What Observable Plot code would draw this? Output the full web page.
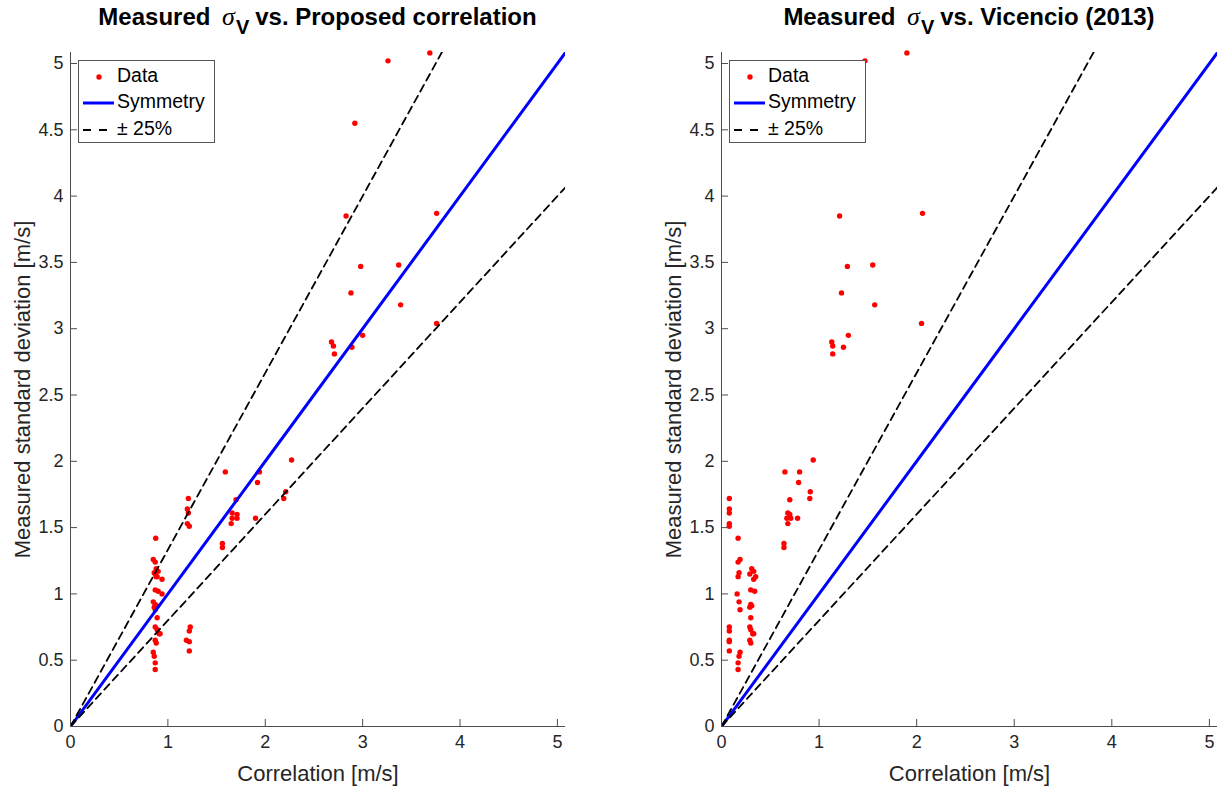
<!DOCTYPE html>
<html>
<head>
<meta charset="utf-8">
<script src="https://cdn.jsdelivr.net/npm/d3@7"></script>
<script src="https://cdn.jsdelivr.net/npm/@observablehq/plot@0.6"></script>
<style>
html, body { margin: 0; padding: 0; background: #fff; overflow: hidden; }
#wrap { position: relative; width: 1222px; height: 789px; font-family: "Liberation Sans", Arial, Helvetica, sans-serif; }
.panel { position: absolute; top: 0; width: 611px; height: 789px; }
.panel svg { display: block; }
.title { position: absolute; top: 2px; font-weight: bold; font-size: 24px; color: #000; white-space: nowrap; transform: translateX(-50%); }
.sig { font-family: "Liberation Serif", "DejaVu Serif", serif; font-style: italic; font-weight: normal; font-size: 26px; padding: 0 1px 0 5px; }
.sub { font-size: 20px; position: relative; top: 9px; margin-right: 6px; }
.legend { position: absolute; top: 60px; width: 137px; height: 83px; box-sizing: border-box; border: 1px solid #555; background: #fff; font-size: 19.5px; color: #000; }
.row { position: absolute; left: 0; height: 24px; width: 135px; }
.row svg { position: absolute; left: 4px; top: 8px; }
.row span { position: absolute; left: 38px; top: 0px; white-space: nowrap; }
</style>
</head>
<body>
<div id="wrap"></div>
<script>
// ---- data ----
const measured = [
  5.08, 5.02, 4.55, 3.87, 3.85, 3.48, 3.47, 3.27, 3.18, 3.04, 2.95, 2.90, 2.87, 2.86, 2.81,
  2.01, 1.92, 1.92, 1.84, 1.77, 1.72, 1.71, 1.61, 1.60, 1.57, 1.57, 1.57, 1.53, 1.38, 1.35,
  1.72, 1.64, 1.61, 1.53, 1.51,
  0.75, 0.72, 0.65, 0.64, 0.57,
  1.42, 1.26, 1.24, 1.19, 1.17, 1.16, 1.15, 1.13, 1.13, 1.11, 1.03, 1.02, 1.00, 0.94, 0.92,
  0.91, 0.90, 0.88, 0.82, 0.75, 0.73, 0.70, 0.70, 0.65, 0.63, 0.56, 0.53, 0.48, 0.43
];
const proposed = [
  3.69, 3.26, 2.92, 3.76, 2.83, 3.37, 2.98, 2.88, 3.39, 3.76, 3.00, 2.68, 2.70, 2.89, 2.71,
  2.27, 1.59, 1.94, 1.92, 2.21, 2.19, 1.70, 1.66, 1.71, 1.66, 1.71, 1.90, 1.65, 1.56, 1.56,
  1.21, 1.20, 1.21, 1.20, 1.22,
  1.23, 1.22, 1.19, 1.22, 1.22,
  0.875, 0.85, 0.87, 0.88, 0.90, 0.86, 0.87, 0.88, 0.89, 0.94, 0.87, 0.90, 0.94, 0.85, 0.87,
  0.89, 0.86, 0.87, 0.89, 0.87, 0.89, 0.91, 0.92, 0.87, 0.88, 0.85, 0.86, 0.87, 0.87
];
const vicencio = [
  1.90, 1.47, 1.30, 2.06, 1.21, 1.55, 1.29, 1.23, 1.57, 2.05, 1.30, 1.13, 1.14, 1.25, 1.14,
  0.94, 0.65, 0.80, 0.79, 0.91, 0.905, 0.70, 0.68, 0.70, 0.67, 0.71, 0.78, 0.68, 0.64, 0.64,
  0.08, 0.08, 0.08, 0.08, 0.08,
  0.08, 0.08, 0.08, 0.08, 0.08,
  0.17, 0.19, 0.17, 0.31, 0.33, 0.18, 0.29, 0.17, 0.35, 0.33, 0.30, 0.34, 0.16, 0.18, 0.30,
  0.31, 0.29, 0.19, 0.30, 0.29, 0.30, 0.32, 0.33, 0.29, 0.30, 0.19, 0.18, 0.17, 0.17
];
const xTicks = [0, 1, 2, 3, 4, 5];
const yTicks = [0, 0.5, 1, 1.5, 2, 2.5, 3, 3.5, 4, 4.5, 5];
const axisMax = 5.083;
const lineX = [0, axisMax];
const symmetrySlope = 1;
const upperSlope = 1 / 0.75;
const lowerSlope = 1 / 1.25;
const xLabel = "Correlation [m/s]";
const yLabel = "Measured standard deviation [m/s]";
const legendLabels = ["Data", "Symmetry", "\u00b1 25%"];

const textColor = "#262626";
const axisColor = "#4d4d4d";

function makePanel(xs, ml, mr) {
  const W = 611, H = 789, mt = 52, mb = 63;
  const innerW = W - ml - mr, innerH = H - mt - mb;
  const pts = measured.map((m, i) => ({x: xs[i], y: m}));
  const lineData = (k) => lineX.map(x => ({x, y: x * k}));
  return Plot.plot({
    width: W, height: H,
    marginLeft: ml, marginRight: mr, marginTop: mt, marginBottom: mb,
    x: {domain: [0, axisMax], axis: null},
    y: {domain: [0, axisMax], axis: null},
    style: {fontFamily: "'Liberation Sans', Arial, Helvetica, sans-serif", color: textColor, background: "#fff"},
    marks: [
      Plot.dot(pts, {x: "x", y: "y", r: 2.7, fill: "#ff0000", stroke: "none"}),
      Plot.line(lineData(symmetrySlope), {x: "x", y: "y", stroke: "#0000ff", strokeWidth: 3, clip: true}),
      Plot.line(lineData(upperSlope), {x: "x", y: "y", stroke: "#000", strokeWidth: 1.8, strokeDasharray: "7.5,5", clip: true}),
      Plot.line(lineData(lowerSlope), {x: "x", y: "y", stroke: "#000", strokeWidth: 1.8, strokeDasharray: "7.5,5", clip: true}),
      Plot.ruleX([0], {stroke: axisColor, strokeWidth: 1}),
      Plot.ruleY([0], {stroke: axisColor, strokeWidth: 1}),
      Plot.tickX(xTicks, {x: d => d, stroke: axisColor, insetTop: innerH - 7}),
      Plot.tickY(yTicks, {y: d => d, stroke: axisColor, insetRight: innerW - 7}),
      Plot.axisX(xTicks, {label: null, tickSize: 0, tickPadding: 9, fontSize: 18, fill: textColor, tickFormat: d => String(d)}),
      Plot.axisY(yTicks, {label: null, tickSize: 0, tickPadding: 7, fontSize: 18, fill: textColor, tickFormat: d => String(d)}),
      Plot.text([xLabel], {text: d => d, frameAnchor: "bottom", lineAnchor: "middle", textAnchor: "middle", dy: 47, fontSize: 22, fill: textColor}),
      Plot.text([yLabel], {text: d => d, frameAnchor: "left", lineAnchor: "middle", textAnchor: "middle", rotate: -90, dx: -48, fontSize: 22, fill: textColor})
    ]
  });
}

function legendBox(left) {
  const box = document.createElement("div");
  box.className = "legend";
  box.style.left = left + "px";
  const samples = [
    '<svg width="32" height="10"><circle cx="16" cy="5" r="2.7" fill="#ff0000"/></svg>',
    '<svg width="32" height="10"><line x1="0" y1="5" x2="31" y2="5" stroke="#0000ff" stroke-width="3"/></svg>',
    '<svg width="32" height="10"><line x1="0" y1="5" x2="31" y2="5" stroke="#000" stroke-width="1.8" stroke-dasharray="8,8"/></svg>'
  ];
  const tops = [3, 29, 56];
  legendLabels.forEach((lab, i) => {
    const r = document.createElement("div");
    r.className = "row";
    r.style.top = tops[i] + "px";
    r.innerHTML = samples[i] + "<span>" + lab + "</span>";
    box.appendChild(r);
  });
  return box;
}

const wrap = document.getElementById("wrap");
const panels = [
  {xs: proposed, ml: 70, mr: 46, left: 0, title: "vs. Proposed correlation"},
  {xs: vicencio, ml: 110, mr: 5, left: 611, title: "vs. Vicencio (2013)"}
];
panels.forEach(p => {
  const div = document.createElement("div");
  div.className = "panel";
  div.style.left = p.left + "px";
  div.appendChild(makePanel(p.xs, p.ml, p.mr));
  const t = document.createElement("div");
  t.className = "title";
  t.style.left = (p.ml + (611 - p.ml - p.mr) / 2) + "px";
  t.innerHTML = 'Measured <span class="sig">\u03c3</span><span class="sub">V</span>' + p.title;
  div.appendChild(t);
  div.appendChild(legendBox(p.ml + 8));
  wrap.appendChild(div);
});
</script>
</body>
</html>
